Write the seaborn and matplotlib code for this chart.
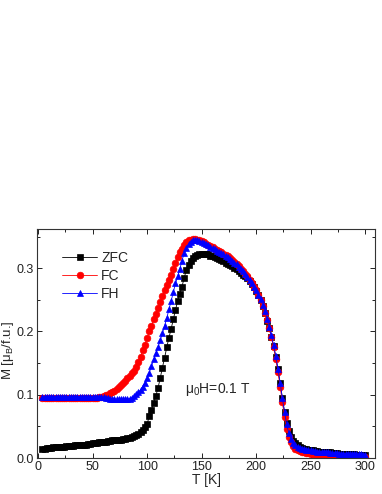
import pandas as pd
import seaborn as sns
import matplotlib.pyplot as plt
from matplotlib.ticker import MultipleLocator

# measurement temperatures [K]
temps = [4, 6, 8, 10, 12, 14, 16, 18, 20, 22, 24, 26, 28, 30, 32, 34, 36, 38, 40, 42,
         44, 46, 48, 50, 52, 54, 56, 58, 60, 62, 64, 66, 68, 70, 72, 74, 76, 78, 80, 82,
         84, 86, 88, 90, 92, 94, 96, 98, 100, 102, 104, 106, 108, 110, 112, 114, 116, 118, 120, 122,
         124, 126, 128, 130, 132, 134, 136, 138, 140, 142, 144, 146, 148, 150, 152, 154, 156, 158, 160, 162,
         164, 166, 168, 170, 172, 174, 176, 178, 180, 182, 184, 186, 188, 190, 192, 194, 196, 198, 200, 202,
         204, 206, 208, 210, 212, 214, 216, 218, 220, 222, 224, 226, 228, 230, 232, 234, 236, 238, 240, 242,
         244, 246, 248, 250, 252, 254, 256, 258, 260, 262, 264, 266, 268, 270, 272, 274, 276, 278, 280, 282,
         284, 286, 288, 290, 292, 294, 296, 298, 300]

zfc = [0.015, 0.015, 0.016, 0.016, 0.016, 0.017, 0.017, 0.017, 0.018, 0.018, 0.018, 0.019, 0.019, 0.019, 0.019, 0.020, 0.020, 0.020, 0.021, 0.021,
       0.021, 0.022, 0.022, 0.023, 0.024, 0.024, 0.025, 0.025, 0.026, 0.026, 0.027, 0.027, 0.028, 0.028, 0.028, 0.029, 0.029, 0.030, 0.030, 0.031,
       0.032, 0.033, 0.034, 0.036, 0.038, 0.041, 0.045, 0.049, 0.054, 0.066, 0.076, 0.087, 0.098, 0.111, 0.126, 0.143, 0.158, 0.175, 0.190, 0.204,
       0.219, 0.234, 0.248, 0.260, 0.271, 0.285, 0.297, 0.305, 0.311, 0.316, 0.319, 0.321, 0.323, 0.323, 0.323, 0.323, 0.322, 0.320, 0.319, 0.317,
       0.316, 0.314, 0.313, 0.311, 0.309, 0.307, 0.305, 0.303, 0.301, 0.299, 0.296, 0.293, 0.290, 0.287, 0.284, 0.280, 0.275, 0.270, 0.264, 0.258,
       0.250, 0.240, 0.229, 0.217, 0.205, 0.192, 0.177, 0.160, 0.140, 0.118, 0.095, 0.073, 0.055, 0.042, 0.033, 0.027, 0.023, 0.020, 0.018, 0.016,
       0.015, 0.014, 0.013, 0.012, 0.012, 0.011, 0.011, 0.010, 0.010, 0.010, 0.009, 0.009, 0.009, 0.008, 0.008, 0.008, 0.007, 0.007, 0.007, 0.007,
       0.006, 0.006, 0.006, 0.006, 0.005, 0.005, 0.005, 0.005, 0.005]

fc = [0.095, 0.095, 0.095, 0.095, 0.095, 0.095, 0.095, 0.095, 0.095, 0.095, 0.095, 0.095, 0.095, 0.095, 0.095, 0.095, 0.095, 0.095, 0.095, 0.095,
      0.095, 0.095, 0.095, 0.095, 0.095, 0.095, 0.096, 0.097, 0.098, 0.099, 0.100, 0.102, 0.104, 0.106, 0.109, 0.112, 0.115, 0.118, 0.122, 0.126,
      0.130, 0.134, 0.138, 0.144, 0.151, 0.160, 0.170, 0.179, 0.190, 0.200, 0.209, 0.219, 0.228, 0.237, 0.246, 0.256, 0.265, 0.273, 0.281, 0.290,
      0.299, 0.308, 0.317, 0.325, 0.331, 0.337, 0.342, 0.344, 0.345, 0.346, 0.346, 0.345, 0.344, 0.343, 0.341, 0.339, 0.337, 0.335, 0.333, 0.331,
      0.329, 0.327, 0.325, 0.323, 0.321, 0.319, 0.316, 0.313, 0.310, 0.307, 0.303, 0.299, 0.295, 0.291, 0.287, 0.282, 0.277, 0.271, 0.265, 0.258,
      0.250, 0.241, 0.230, 0.218, 0.205, 0.191, 0.175, 0.157, 0.136, 0.112, 0.088, 0.065, 0.046, 0.033, 0.025, 0.019, 0.015, 0.013, 0.011, 0.010,
      0.009, 0.008, 0.008, 0.007, 0.007, 0.006, 0.006, 0.005, 0.005, 0.005, 0.004, 0.004, 0.004, 0.003, 0.003, 0.003, 0.003, 0.002, 0.002, 0.002,
      0.002, 0.002, 0.001, 0.001, 0.001, 0.001, 0.001, 0.001, 0.001]

fh = [0.097, 0.097, 0.097, 0.097, 0.097, 0.097, 0.097, 0.097, 0.097, 0.097, 0.097, 0.097, 0.097, 0.097, 0.097, 0.097, 0.097, 0.097, 0.097, 0.097,
      0.097, 0.097, 0.097, 0.097, 0.097, 0.097, 0.097, 0.096, 0.096, 0.095, 0.095, 0.094, 0.094, 0.094, 0.093, 0.093, 0.093, 0.093, 0.093, 0.093,
      0.094, 0.095, 0.098, 0.101, 0.104, 0.108, 0.113, 0.119, 0.126, 0.135, 0.145, 0.156, 0.166, 0.175, 0.186, 0.197, 0.209, 0.221, 0.235, 0.248,
      0.262, 0.276, 0.287, 0.299, 0.312, 0.324, 0.332, 0.338, 0.342, 0.344, 0.344, 0.344, 0.343, 0.342, 0.340, 0.338, 0.336, 0.334, 0.332, 0.330,
      0.328, 0.326, 0.324, 0.322, 0.320, 0.318, 0.315, 0.312, 0.309, 0.306, 0.302, 0.299, 0.295, 0.291, 0.286, 0.282, 0.277, 0.271, 0.265, 0.258,
      0.251, 0.242, 0.232, 0.220, 0.207, 0.194, 0.178, 0.161, 0.141, 0.119, 0.095, 0.073, 0.053, 0.039, 0.030, 0.024, 0.020, 0.018, 0.016, 0.015,
      0.014, 0.013, 0.012, 0.012, 0.011, 0.011, 0.010, 0.010, 0.010, 0.009, 0.009, 0.009, 0.008, 0.008, 0.008, 0.008, 0.007, 0.007, 0.007, 0.007,
      0.007, 0.006, 0.006, 0.006, 0.006, 0.006, 0.006, 0.005, 0.005]

series_names = ["ZFC", "FC", "FH"]
series_colors = ["black", "red", "blue"]
series_markers = ["s", "o", "^"]

sns.set_style("ticks")
plt.rcParams['font.family'] = ['Liberation Sans', 'DejaVu Sans']
plt.rcParams['mathtext.fontset'] = 'custom'
plt.rcParams['mathtext.rm'] = 'Liberation Sans'
plt.rcParams['mathtext.it'] = 'Liberation Sans:italic'

df = pd.DataFrame({"T": temps, "ZFC": zfc, "FC": fc, "FH": fh})

fig = plt.figure(figsize=(3.82, 4.94), dpi=100)
ax = fig.add_axes([37 / 382, 1 - 458 / 494, 338 / 382, 229 / 494])

for name, col, mk in zip(series_names, series_colors, series_markers):
    sns.lineplot(data=df, x="T", y=name, ax=ax, color=col, marker=mk,
                 markersize=4.8, markeredgecolor=col, markeredgewidth=0.5,
                 linewidth=0.6, label=name)

ax.set_xlim(-1, 309)
ax.set_ylim(0, 0.362)
ax.xaxis.set_major_locator(MultipleLocator(50))
ax.xaxis.set_minor_locator(MultipleLocator(25))
ax.yaxis.set_major_locator(MultipleLocator(0.1))
ax.yaxis.set_minor_locator(MultipleLocator(0.05))
ax.tick_params(which='both', direction='in', top=True, right=True,
               labelsize=9, colors='#222222', pad=2)
ax.tick_params(which='major', length=3.5, width=0.7)
ax.tick_params(which='minor', length=2, width=0.7)
ax.yaxis.set_major_formatter(plt.FuncFormatter(lambda v, p: f"{v:.1f}"))
for sp in ax.spines.values():
    sp.set_linewidth(0.8)
    sp.set_color('#333333')

ax.set_xlabel("T [K]", fontsize=10, labelpad=0)
ax.set_ylabel(r"M [μ$_\mathrm{B}$/f.u.]", fontsize=9.5)
ax.yaxis.set_label_coords(-0.062, 0.47)

ax.text(135, 0.103, r"μ$_0$H=0.1 T", fontsize=10, ha='left', va='baseline')

ax.legend(loc='upper left', bbox_to_anchor=(0.075, 0.905), frameon=False,
          fontsize=10, handlelength=2.5, handletextpad=0.3, labelspacing=0.3,
          borderpad=0, borderaxespad=0)

fig.savefig("out.png", dpi=100)
